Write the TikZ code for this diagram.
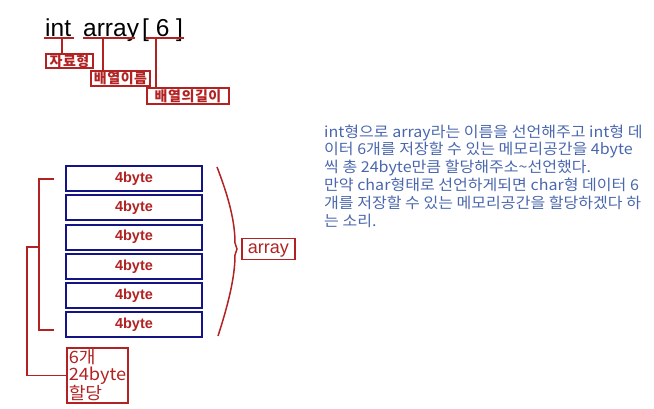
\documentclass[tikz,border=0pt]{standalone}
\usepackage{fontspec}
\setmainfont{Liberation Sans}
\newfontfamily\kr{Noto Sans CJK KR}
\newfontfamily\krwide[LetterSpace=4]{Noto Sans CJK KR}
\newfontfamily\krnote[FakeStretch=1.07]{Noto Sans CJK KR}
\usetikzlibrary{positioning}
\definecolor{memred}{RGB}{178,34,34}
\definecolor{memblue}{RGB}{20,20,135}
\definecolor{notegray}{RGB}{74,103,173}

\begin{document}
\begin{tikzpicture}[x=1pt, y=-1pt,
  redline/.style={draw=memred, line width=1.5pt},
  decl/.style={anchor=base west, inner sep=0pt, font=\fontsize{24.5}{24.5}\selectfont},
  tagbox/.style={draw=memred, line width=1.6pt, inner sep=0pt, text=memred, font=\krwide\bfseries\fontsize{14}{14}\selectfont},
  cellbox/.style={draw=memblue, line width=2pt, minimum width=136pt, minimum height=25pt, inner sep=0pt, text=memred, font=\bfseries\fontsize{14.5}{14.5}\selectfont},
  notetext/.style={anchor=base west, inner sep=0pt, text=notegray, font=\krnote\fontsize{15}{15}\selectfont}]
\useasboundingbox (0,0) rectangle (654,408);

% Declaration
\node[decl] (int) at (45,36) {int};
\node[decl] (name) at (83,36) {array};
\node[decl] (len) at (142,36) {[ 6 ]};
\draw[redline] (44,38) -- (74,38);
\draw[redline] (83,38) -- (135,38);
\draw[redline] (146,38) -- (184,38);

% Tags under the declaration
\node[tagbox, minimum width=47pt, minimum height=14pt] (typeTag) at (69.5,61) {자료형};
\node[tagbox, minimum width=59pt, minimum height=15pt] (nameTag) at (120.5,78.5) {배열이름};
\node[tagbox, minimum width=82pt, minimum height=16pt] (lenTag) at (188,96) {배열의길이};
\coordinate (intU) at (62,38);
\coordinate (nameU) at (103,38);
\coordinate (lenU) at (156,38);
\draw[redline] (intU) -- (intU |- typeTag.north);
\draw[redline] (nameU) -- (nameU |- nameTag.north);
\draw[redline] (lenU) -- (lenU |- lenTag.north);

% Memory cells
\foreach \i in {1,...,6}
  \node[cellbox] (cell\i) at (134,{178.75+29.2*(\i-1)}) {4byte};

% Left bracket
\draw[redline] ([xshift=-11pt]cell1.west) -- ++(-15,0) |- ([xshift=-11pt,yshift=-5pt]cell6.west);
\coordinate (brMid) at (40,247);
\node[draw=memred, line width=1.6pt, minimum width=61pt, minimum height=55pt, inner sep=0pt,
  align=left, text=memred, font=\krnote\fontsize{17}{17}\selectfont] (allocTag) at (97.5,375.5) {6개\\24byte\\할당};
\draw[redline] (brMid) -- ++(-13,0) |- (allocTag.west);

% Right curve
\coordinate (arcTip) at (237,249);
\draw[redline] (217,167) .. controls (229,198) and (235,222) .. (235,243) -- (arcTip) -- (235,255) .. controls (235,276) and (229,302) .. (218,336);
\node[draw=memred, line width=1.6pt, minimum width=53pt, minimum height=21pt, inner sep=0pt,
  text height=13pt, text depth=3.6pt, text=memred, font=\fontsize{18}{18}\selectfont,
  anchor=west, right=4pt of arcTip] (arrTag) {array};

% Note
\foreach \t [count=\i] in {int형으로 array라는 이름을 선언해주고 int형 데,
    이터 6개를 저장할 수 있는 메모리공간을 4byte,
    씩 총 24byte만큼 할당해주소\textasciitilde 선언했다.,
    만약 char형태로 선언하게되면 char형 데이터 6,
    개를 저장할 수 있는 메모리공간을 할당하겠다 하,
    는 소리.}
  \node[notetext] (note\i) at (324,{137+17.8*(\i-1)}) {\t};
\end{tikzpicture}
\end{document}
